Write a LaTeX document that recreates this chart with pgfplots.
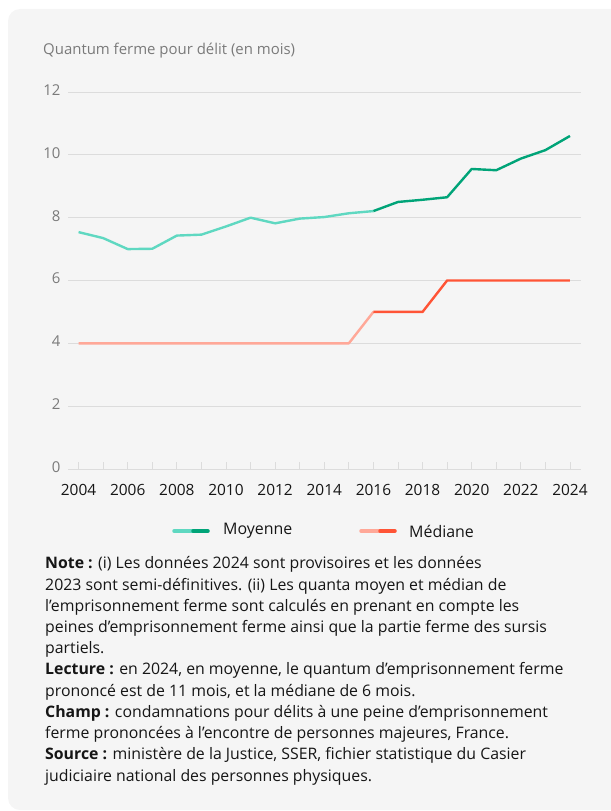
\documentclass[border=0pt]{standalone}
\usepackage{fontspec}
\setmainfont{Open Sans}
\usepackage{pgfplots}
\pgfplotsset{compat=1.18}
\definecolor{card}{HTML}{F5F5F5}
\definecolor{gridc}{HTML}{DCDCDC}
\definecolor{tealL}{HTML}{5FD8C1}
\definecolor{tealD}{HTML}{00A478}
\definecolor{redL}{HTML}{FFA898}
\definecolor{redD}{HTML}{FF5436}
\definecolor{ink}{HTML}{161616}
\definecolor{muted}{HTML}{7A7A7A}

\begin{document}
\begin{tikzpicture}
\begin{scope}[x=1bp,y=-1bp]
  \useasboundingbox (0,0) rectangle (611,811);
  \fill[card, rounded corners=12bp] (8,9) rectangle (660,810);
  \node[anchor=west, muted, font=\fontsize{15}{16}\selectfont, inner sep=0pt] at (43,51) {Quantum ferme pour délit (en mois)};
\end{scope}

\begin{axis}[
  at={(68bp,-469bp)}, anchor=south west,
  scale only axis, width=513bp, height=377bp,
  xmin=2003.57, xmax=2024.45, ymin=0, ymax=12,
  axis line style={draw=none},
  ymajorgrids, grid style={gridc, line width=0.9bp},
  xtick={2004,2006,...,2024}, minor xtick={2005,2007,...,2023},
  ytick={0,2,...,12},
  xtick pos=left, ytick pos=left,
  tick align=inside,
  major tick length=7bp, minor tick length=7bp,
  xtick style={gridc, line width=0.9bp},
  ytick style={draw=none},
  /pgf/number format/assume math mode=true,
  xticklabel={\pgfmathprintnumber[1000 sep={}]{\tick}},
  xticklabel style={ink, font=\fontsize{15.5}{16}\selectfont, anchor=north, yshift=-12bp},
  yticklabel style={muted, font=\fontsize{15}{16}\selectfont, anchor=east, xshift=-4bp, yshift=2bp},
  clip=false,
]
\addplot[tealL, line width=2.4bp, line join=round] coordinates {
  (2004,7.54) (2005,7.35) (2006,7.00) (2007,7.01) (2008,7.43) (2009,7.46)
  (2010,7.72) (2011,8.00) (2012,7.82) (2013,7.97) (2014,8.02) (2015,8.14) (2016,8.21)
};
\addplot[tealD, line width=2.4bp, line join=round] coordinates {
  (2016,8.21) (2017,8.50) (2018,8.57) (2019,8.65) (2020,9.55) (2021,9.51)
  (2022,9.88) (2023,10.15) (2024,10.60)
};
\addplot[redL, line width=2.4bp, line join=round] coordinates {
  (2004,4) (2005,4) (2006,4) (2007,4) (2008,4) (2009,4) (2010,4) (2011,4)
  (2012,4) (2013,4) (2014,4) (2015,4) (2016,5)
};
\addplot[redD, line width=2.4bp, line join=round] coordinates {
  (2016,5) (2017,5) (2018,5) (2019,6) (2020,6) (2021,6) (2022,6) (2023,6) (2024,6)
};
\end{axis}

\begin{scope}[x=1bp,y=-1bp]
  % legend
  \draw[tealL, line width=3.5bp, line cap=round] (174,531) -- (193,531);
  \draw[tealD, line width=3.5bp, line cap=round] (193,531) -- (208,531);
  \node[anchor=west, ink, font=\fontsize{16}{16}\selectfont, inner sep=0pt] at (223,531) {Moyenne};
  \draw[redL, line width=3.5bp, line cap=round] (361,531) -- (380,531);
  \draw[redD, line width=3.5bp, line cap=round] (380,531) -- (395,531);
  \node[anchor=west, ink, font=\fontsize{16}{16}\selectfont, inner sep=0pt] at (409,531) {Médiane};
  % notes
  \node[anchor=base west, ink, inner sep=0pt, align=left,
        font=\fontsize{15.9}{21.3}\selectfont] at (45,781) {%
\textbf{Note :} (i) Les données 2024 sont provisoires et les données\\
2023 sont semi-définitives. (ii) Les quanta moyen et médian de\\
l’emprisonnement ferme sont calculés en prenant en compte les\\
peines d’emprisonnement ferme ainsi que la partie ferme des sursis\\
partiels.\\
\textbf{Lecture :} en 2024, en moyenne, le quantum d’emprisonnement ferme\\
prononcé est de 11 mois, et la médiane de 6 mois.\\
\textbf{Champ :} condamnations pour délits à une peine d’emprisonnement\\
ferme prononcées à l’encontre de personnes majeures, France.\\
\textbf{Source :} ministère de la Justice, SSER, fichier statistique du Casier\\
judiciaire national des personnes physiques.};
\end{scope}
\end{tikzpicture}
\end{document}
